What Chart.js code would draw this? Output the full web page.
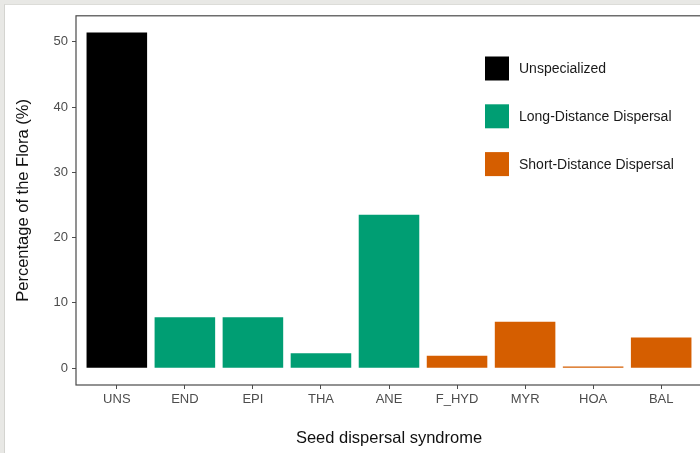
<!DOCTYPE html>
<html>
<head>
<meta charset="utf-8">
<script src="https://cdn.jsdelivr.net/npm/chart.js@4.4.1/dist/chart.umd.min.js"></script>
<style>
  html, body { margin: 0; padding: 0; width: 700px; height: 453px; overflow: hidden; background: #e8e8e5; }
  #wrap { position: absolute; left: 4px; top: 4px; width: 720px; height: 449px; background: #ffffff; border-left: 1px solid #d4d4d0; border-top: 1px solid #dcdcd8; box-sizing: border-box; }
  canvas { position: absolute; left: -1px; top: -1px; }
</style>
</head>
<body>
<div id="wrap"><canvas id="c" width="720" height="449"></canvas></div>
<script>
// ---- data ----
const categories = ["UNS", "END", "EPI", "THA", "ANE", "F_HYD", "MYR", "HOA", "BAL"];
const values     = [51.4, 7.8, 7.8, 2.3, 23.5, 1.9, 7.1, 0.25, 4.7];
const groupOf    = ["Unspecialized", "Long-Distance Dispersal", "Long-Distance Dispersal", "Long-Distance Dispersal", "Long-Distance Dispersal", "Short-Distance Dispersal", "Short-Distance Dispersal", "Short-Distance Dispersal", "Short-Distance Dispersal"];
const groups     = ["Unspecialized", "Long-Distance Dispersal", "Short-Distance Dispersal"];
const groupColors = ["#000000", "#009E73", "#D55E00"];
const yTicks     = [0, 10, 20, 30, 40, 50];

const FONT = "'Liberation Sans', Arial, Helvetica, sans-serif";
const colorFor = g => groupColors[groups.indexOf(g)];

// ggplot-like expansion
const yMaxData = Math.max(...values);
const yExp = 0.05 * yMaxData;

const panelBorder = {
  id: 'panelBorder',
  afterDraw(chart) {
    const {ctx, chartArea: a} = chart;
    ctx.save();
    ctx.strokeStyle = '#4a4a4a';
    ctx.lineWidth = 1.2;
    ctx.strokeRect(a.left, a.top, a.right - a.left, a.bottom - a.top);
    ctx.restore();
  }
};

const legendPlugin = {
  id: 'insideLegend',
  afterDraw(chart) {
    const {ctx} = chart;
    ctx.save();
    const x0 = 481, y0 = 64.5, step = 47.8, size = 24;
    groups.forEach((g, i) => {
      const cy = y0 + i * step;
      ctx.fillStyle = groupColors[i];
      ctx.fillRect(x0, cy - size / 2, size, size);
      ctx.fillStyle = '#1a1a1a';
      ctx.font = "14px " + FONT;
      ctx.textBaseline = 'middle';
      ctx.textAlign = 'left';
      ctx.fillText(g, x0 + 34, cy + 1);
    });
    ctx.restore();
  }
};

new Chart(document.getElementById('c'), {
  type: 'bar',
  data: {
    datasets: [{
      data: values.map((v, i) => ({x: i, y: v})),
      backgroundColor: groupOf.map(colorFor),
      borderWidth: 0,
      barPercentage: 0.89,
      categoryPercentage: 1.0
    }]
  },
  options: {
    responsive: false,
    animation: false,
    devicePixelRatio: 1,
    layout: { padding: { top: 9.5, right: 22, left: 0, bottom: 0 } },
    plugins: { legend: { display: false }, tooltip: { enabled: false } },
    scales: {
      x: {
        type: 'linear',
        offset: false,
        min: -0.6,
        max: categories.length - 1 + 0.6,
        afterBuildTicks: s => { s.ticks = categories.map((c, i) => ({value: i})); },
        afterFit: s => { s.height = 68; },
        ticks: {
          callback: v => categories[v],
          font: { family: FONT, size: 13 },
          color: '#4d4d4d',
          padding: 3,
          maxRotation: 0,
          autoSkip: false
        },
        grid: { offset: false, drawOnChartArea: false, tickLength: 4, color: '#4d4d4d', tickWidth: 1 },
        border: { display: false },
        title: {
          display: true,
          text: 'Seed dispersal syndrome',
          font: { family: FONT, size: 16.5 },
          color: '#111111',
          padding: { top: 0, bottom: 5 }
        }
      },
      y: {
        type: 'linear',
        min: -yExp,
        max: yMaxData + yExp,
        afterBuildTicks: s => { s.ticks = yTicks.map(v => ({value: v})); },
        afterFit: s => { s.width = 72; },
        ticks: {
          font: { family: FONT, size: 13 },
          color: '#4d4d4d',
          padding: 4
        },
        grid: { drawOnChartArea: false, tickLength: 4, color: '#4d4d4d', tickWidth: 1 },
        border: { display: false },
        title: {
          display: true,
          text: 'Percentage of the Flora (%)',
          font: { family: FONT, size: 16.5 },
          color: '#111111',
          padding: { top: 10, bottom: 0 }
        }
      }
    }
  },
  plugins: [panelBorder, legendPlugin]
});
</script>
</body>
</html>
